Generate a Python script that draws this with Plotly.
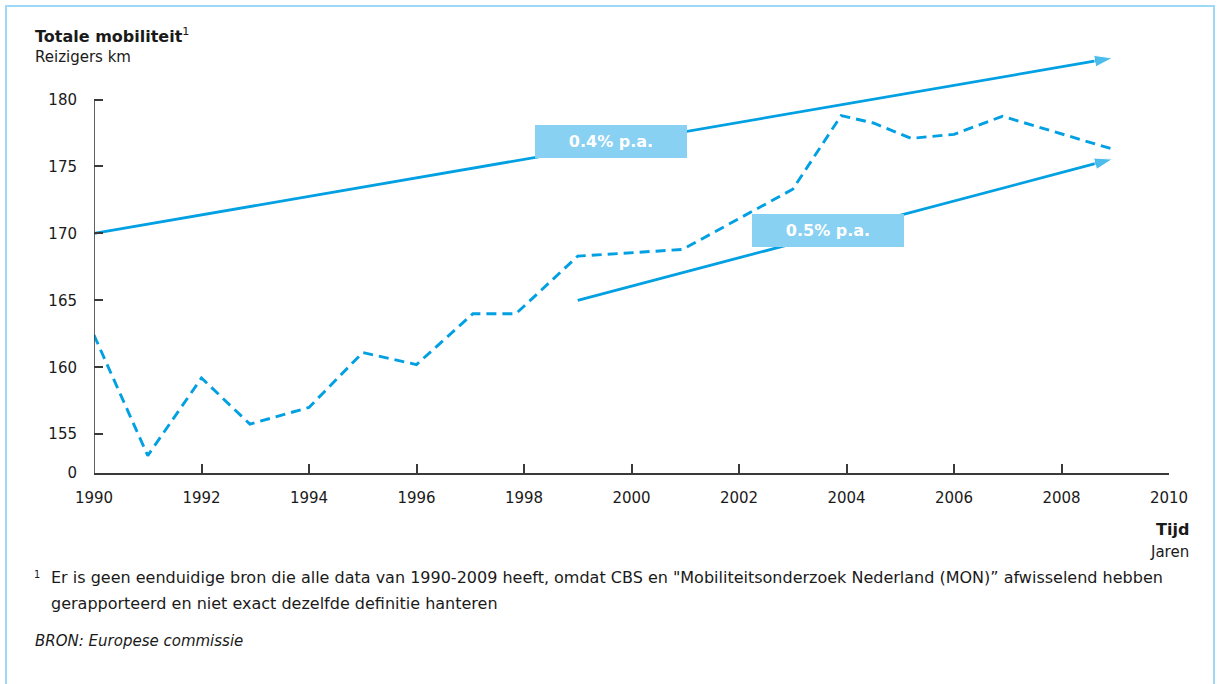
import plotly.graph_objects as go

# ---- data ----
years = [1990, 1991, 1992, 1992.9, 1994, 1995, 1996, 1997.05, 1997.85, 1999,
         2000.95, 2003, 2003.9, 2004.5, 2005.2, 2006, 2006.9, 2008.95]
mobility = [162.4, 153.4, 159.2, 155.75, 157.0, 161.1, 160.2, 164.0, 164.0, 168.3,
            168.8, 173.3, 178.8, 178.25, 177.1, 177.4, 178.75, 176.3]

trend_hi_x = [1990, 2008.95]
trend_hi_y = [170.0, 183.1]
trend_lo_x = [1999, 2008.95]
trend_lo_y = [165.0, 175.55]

trend_labels = ["0.4% p.a.", "0.5% p.a."]
label_x = [1999.62, 2003.66]
label_y = [176.9, 170.23]

x_ticks = list(range(1990, 2011, 2))
y_break = 152.1
y_ticks = [y_break, 155, 160, 165, 170, 175, 180]
y_ticktext = ["0", "155", "160", "165", "170", "175", "180"]

# ---- layout constants ----
W, H = 1217, 684
L, R, T, B = 94, 48, 46, 211
PW, PH = W - L - R, H - T - B
BLUE = "#00A0E3"
BOX = "#88D1F2"
AXC = "#3a3a3a"
FONT = "DejaVu Sans"


def px(x):
    return (x - L) / PW


def py(y):
    return (H - B - y) / PH


fig = go.Figure()

fig.add_trace(go.Scatter(
    x=years, y=mobility, mode="lines",
    line=dict(color=BLUE, width=2.9, dash="10px,6px"),
    hoverinfo="skip", showlegend=False))

for xs, ys in [(trend_hi_x, trend_hi_y), (trend_lo_x, trend_lo_y)]:
    fig.add_trace(go.Scatter(
        x=xs, y=ys, mode="lines+markers",
        line=dict(color=BLUE, width=2.8),
        marker=dict(symbol="arrow", size=[0, 19], color=BLUE, angleref="previous"),
        hoverinfo="skip", showlegend=False))

annotations = []
for t, lx, ly in zip(trend_labels, label_x, label_y):
    annotations.append(dict(
        x=lx, y=ly, xref="x", yref="y", text="<b>%s</b>" % t, showarrow=False,
        bgcolor=BOX, width=152, height=33, borderpad=0, borderwidth=0,
        font=dict(family=FONT, size=16, color="white"),
        xanchor="center", yanchor="middle"))


def txt(text, x, y, size=15, anchor="left", color="#1a1a1a"):
    annotations.append(dict(
        x=px(x), y=py(y), xref="paper", yref="paper", text=text, showarrow=False,
        xanchor=anchor, yanchor="middle", align=anchor,
        font=dict(family=FONT, size=size, color=color)))


txt("<b>Totale mobiliteit</b><sup>1</sup>", 33, 36, size=16)
txt("Reizigers km", 33, 57, size=15)
txt("<b>Tijd</b>", 1191, 529, size=16, anchor="right")
txt("Jaren", 1191, 552, size=15, anchor="right")
txt("<sup>1</sup>", 32, 574, size=14)
txt("Er is geen eenduidige bron die alle data van 1990-2009 heeft, omdat CBS en "
    "\"Mobiliteitsonderzoek Nederland (MON)\u201d afwisselend hebben", 49, 577, size=16)
txt("gerapporteerd en niet exact dezelfde definitie hanteren", 49, 603, size=16)
txt("<i>BRON: Europese commissie</i>", 33, 641, size=15)

shapes = [
    dict(type="line", xref="x", yref="y", x0=1990, x1=1990, y0=y_break, y1=180,
         line=dict(color=AXC, width=1.6)),
    dict(type="rect", xref="paper", yref="paper", x0=px(6), x1=px(1214),
         y0=py(700), y1=py(6), line=dict(color="#9DD9F5", width=2), layer="below"),
]

fig.update_layout(
    width=W, height=H, margin=dict(l=L, r=R, t=T, b=B, pad=0),
    paper_bgcolor="white", plot_bgcolor="white",
    font=dict(family=FONT, size=15, color="#1a1a1a"),
    annotations=annotations, shapes=shapes, showlegend=False,
    xaxis=dict(range=[1990, 2010], tickvals=x_ticks, ticks="inside", ticklen=9,
               tickwidth=1.6, tickcolor=AXC, showline=True, linecolor=AXC, linewidth=1.6,
               showgrid=False, zeroline=False, ticklabelstandoff=10,
               tickfont=dict(family=FONT, size=15, color="#1a1a1a")),
    yaxis=dict(range=[y_break, 184], tickvals=y_ticks, ticktext=y_ticktext,
               ticks="inside", ticklen=9, tickwidth=1.6, tickcolor=AXC,
               showline=False, showgrid=False, zeroline=False, ticklabelstandoff=16,
               tickfont=dict(family=FONT, size=15, color="#1a1a1a")),
)

fig.write_html("out.html")
